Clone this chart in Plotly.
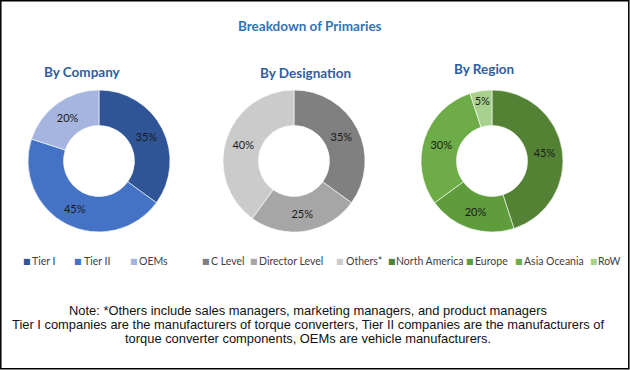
import plotly.graph_objects as go

# ---------------- data ----------------
chart_title = "Breakdown of Primaries"
subtitles = ["By Company", "By Designation", "By Region"]

company_labels = ["Tier I", "Tier II", "OEMs"]
company_values = [35, 45, 20]

designation_labels = ["C Level", "Director Level", "Others*"]
designation_values = [35, 25, 40]

region_labels = ["North America", "Europe", "Asia Oceania", "RoW"]
region_values = [45, 20, 30, 5]

note_lines = [
    "Note: *Others include sales managers, marketing managers, and product managers",
    "Tier I companies are the manufacturers of torque converters, Tier II companies are the manufacturers of",
    "torque converter components, OEMs are vehicle manufacturers.",
]

# ---------------- styles / layout ----------------
W, H = 630, 370
company_colors = ["#2F5597", "#4472C4", "#A6B5DF"]
designation_colors = ["#808080", "#A6A6A6", "#CBCBCB"]
region_colors = ["#548235", "#5E9C3C", "#6DAC46", "#A9D18E"]

pie_centers = [(99, 161), (294, 161), (492, 161)]
pie_radius = 71
subtitle_pos = [(82, 72), (305, 73), (484, 69)]
legend_marker_x = [[22, 73, 129], [201, 249, 335], [387, 465, 514, 589]]
legend_text_x = [[31, 83, 138], [210, 258, 345], [395, 474, 523, 597]]
legend_y = 261
note_y = [310, 324, 338]

LABEL_FONT = "Lato, Carlito, Calibri, sans-serif"
NOTE_FONT = "Liberation Sans Narrow, Arial Narrow, Liberation Sans, Arial, sans-serif"


def px(x):
    return x / W


def py(y):
    return 1 - y / H


groups = [
    (company_labels, company_values, company_colors),
    (designation_labels, designation_values, designation_colors),
    (region_labels, region_values, region_colors),
]

fig = go.Figure()
for (labels, values, colors), (cx, cy) in zip(groups, pie_centers):
    fig.add_trace(go.Pie(
        labels=labels,
        values=values,
        hole=0.5,
        sort=False,
        direction="clockwise",
        rotation=0,
        marker=dict(colors=colors, line=dict(color="white", width=0.6)),
        texttemplate="%{value}%",
        textposition="inside",
        insidetextorientation="horizontal",
        textfont=dict(family=LABEL_FONT, size=11, color="#1a1a1a"),
        domain=dict(x=[px(cx - pie_radius), px(cx + pie_radius)],
                    y=[py(cy + pie_radius), py(cy - pie_radius)]),
        showlegend=False,
        hoverinfo="label+percent",
    ))

annotations = []
annotations.append(dict(
    text="<b>" + chart_title + "</b>", x=px(310), y=py(26),
    xref="paper", yref="paper", showarrow=False, xanchor="center", yanchor="middle",
    font=dict(family=LABEL_FONT, size=13.5, color="#2E75B6"),
))
for t, (sx, sy) in zip(subtitles, subtitle_pos):
    annotations.append(dict(
        text="<b>" + t + "</b>", x=px(sx), y=py(sy),
        xref="paper", yref="paper", showarrow=False, xanchor="center", yanchor="middle",
        font=dict(family=LABEL_FONT, size=13.5, color="#2F5E9E"),
    ))

for (labels, values, colors), mxs, txs in zip(groups, legend_marker_x, legend_text_x):
    for lab, col, mx, tx in zip(labels, colors, mxs, txs):
        annotations.append(dict(
            text="■", x=px(mx - 1), y=py(legend_y), xref="paper", yref="paper",
            showarrow=False, xanchor="left", yanchor="middle",
            font=dict(family="DejaVu Sans", size=8, color=col),
        ))
        annotations.append(dict(
            text=lab, x=px(tx - 1), y=py(legend_y), xref="paper", yref="paper",
            showarrow=False, xanchor="left", yanchor="middle",
            font=dict(family=LABEL_FONT, size=10.5, color="#404040"),
        ))

for line, ny in zip(note_lines, note_y):
    annotations.append(dict(
        text=line, x=px(308), y=py(ny), xref="paper", yref="paper",
        showarrow=False, xanchor="center", yanchor="middle",
        font=dict(family=NOTE_FONT, size=12.9, color="#111111"),
    ))

fig.update_layout(
    width=W, height=H,
    margin=dict(l=0, r=0, t=0, b=0),
    paper_bgcolor="white", plot_bgcolor="white",
    annotations=annotations,
    uniformtext=dict(minsize=11, mode="show"),
    shapes=[dict(type="rect", xref="paper", yref="paper",
                 x0=px(0.8), x1=px(W - 1.2), y0=py(H - 1.2), y1=py(0.8),
                 line=dict(color="#000000", width=1.5))],
)

fig.write_html(
    "out.html",
    config={"displayModeBar": False},
    post_script="document.body.style.margin='0';document.body.style.overflow='hidden';",
)
